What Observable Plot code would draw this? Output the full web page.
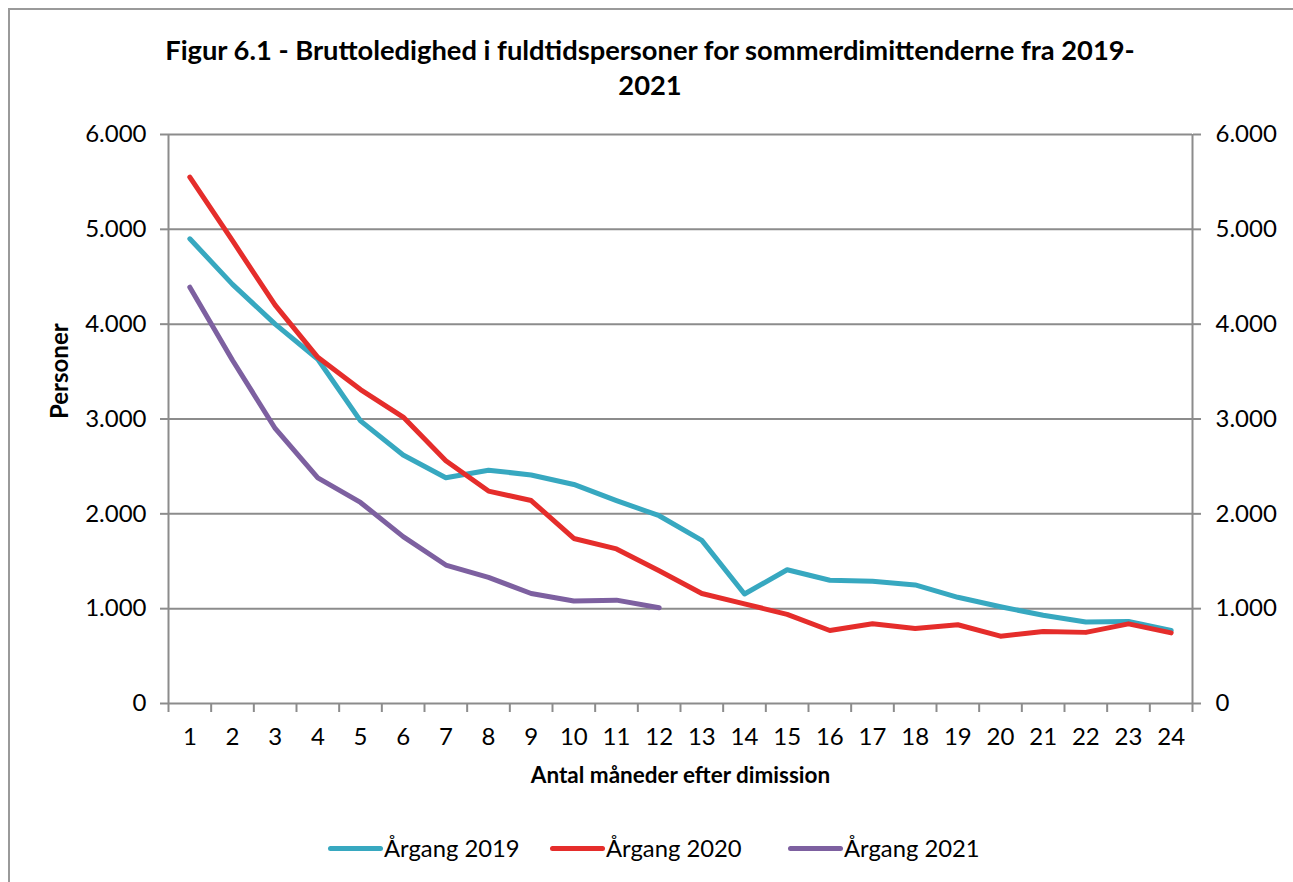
<!DOCTYPE html>
<html>
<head>
<meta charset="utf-8">
<script src="https://cdn.jsdelivr.net/npm/d3@7"></script>
<script src="https://cdn.jsdelivr.net/npm/@observablehq/plot@0.6"></script>
<style>
  html, body { margin: 0; padding: 0; background: #fff; }
  body { width: 1293px; height: 882px; position: relative; overflow: hidden; font-family: Lato, "Open Sans", sans-serif; }
  #frame { position: absolute; left: 8px; top: 8px; width: 1300px; height: 900px; border-left: 2px solid #9a9a9a; border-top: 2px solid #9a9a9a; }
  #title { position: absolute; left: 0; width: 1300px; top: 32px; text-align: center; font-weight: bold; font-size: 27.3px; line-height: 35px; color: #000; }
  #chart { position: absolute; left: 0; top: 0; }
  #chart g[aria-label$="tick label"] text { font-size: 24px; }
  #legend { position: absolute; top: 832px; left: 0; width: 1293px; height: 32px; }
  .item { position: absolute; display: flex; align-items: center; font-size: 23.8px; color: #000; }
  .swatch { width: 55px; height: 5px; border-radius: 3px; margin-right: 1px; }
</style>
</head>
<body>
<div id="frame"></div>
<div id="chart"></div>
<div id="title">Figur 6.1 - Bruttoledighed i fuldtidspersoner for sommerdimittenderne fra 2019-<br>2021</div>
<div id="legend"></div>
<script>
const months = [1,2,3,4,5,6,7,8,9,10,11,12,13,14,15,16,17,18,19,20,21,22,23,24];
const series = ["Årgang 2019", "Årgang 2020", "Årgang 2021"];
const colors = ["#37a8c0", "#e52d2b", "#7d60a0"];
const v2019 = [4900,4420,4000,3630,2980,2620,2380,2460,2410,2310,2140,1980,1720,1155,1410,1300,1290,1250,1120,1020,930,860,865,770];
const v2020 = [5550,4880,4200,3650,3310,3020,2560,2240,2140,1740,1630,1400,1160,1050,940,770,840,790,830,710,760,750,840,745];
const v2021 = [4390,3620,2900,2380,2120,1760,1460,1330,1160,1080,1090,1010];
const yTicks = [0,1000,2000,3000,4000,5000,6000];
const xLabel = "Antal måneder efter dimission";
const yLabel = "Personer";

const valueSets = [v2019, v2020, v2021];
const data = [];
valueSets.forEach((vals, i) => vals.forEach((v, j) => data.push({series: series[i], month: months[j], value: v})));

const fmt = d => d === 0 ? "0" : d3.format(",")(d).replace(/,/g, ".");
const boundaries = months.map(m => m - 0.5).concat([months[months.length - 1] + 0.5]);
const gridColor = "#8c8c8c";

const plot = Plot.plot({
  width: 1293,
  height: 800,
  marginTop: 134,
  marginLeft: 168,
  marginRight: 101,
  marginBottom: 97,
  style: {fontFamily: "Lato, 'Open Sans', sans-serif", fontSize: "24px", color: "#000", background: "transparent"},
  x: {domain: [0.5, 24.5]},
  y: {domain: [0, 6000]},
  color: {domain: series, range: colors},
  marks: [
    Plot.ruleY(yTicks, {stroke: gridColor, strokeWidth: 2}),
    Plot.ruleX([0.5, 24.5], {stroke: gridColor, strokeWidth: 2}),
    Plot.axisY({anchor: "left", ticks: yTicks, tickFormat: fmt, tickSize: 8, tickPadding: 14, stroke: gridColor, strokeWidth: 2, label: null}),
    Plot.axisY({anchor: "right", ticks: yTicks, tickFormat: fmt, tickSize: 8, tickPadding: 15, stroke: gridColor, strokeWidth: 2, label: null}),
    Plot.axisX({ticks: boundaries, tickFormat: () => "", tickSize: 9, stroke: gridColor, strokeWidth: 2, label: null}),
    Plot.axisX({ticks: months, tickFormat: d => String(d), tickSize: 0, tickPadding: 24, label: null}),
    Plot.line(data, {x: "month", y: "value", z: "series", stroke: "series", strokeWidth: 5, strokeLinejoin: "round", strokeLinecap: "round"}),
    Plot.text([xLabel], {frameAnchor: "bottom", dy: 79, text: d => d, fontWeight: "bold", fontSize: 22.5}),
    Plot.text([yLabel], {frameAnchor: "left", dx: -108, rotate: -90, text: d => d, fontWeight: "bold", fontSize: 24})
  ]
});
document.getElementById("chart").appendChild(plot);

const legend = document.getElementById("legend");
const lefts = [328, 550, 788];
series.forEach((s, i) => {
  const it = document.createElement("div");
  it.className = "item";
  it.style.left = lefts[i] + "px";
  it.style.top = "0px";
  it.style.height = "32px";
  const sw = document.createElement("span");
  sw.className = "swatch";
  sw.style.background = colors[i];
  const tx = document.createElement("span");
  tx.textContent = s;
  it.appendChild(sw);
  it.appendChild(tx);
  legend.appendChild(it);
});
</script>
</body>
</html>
